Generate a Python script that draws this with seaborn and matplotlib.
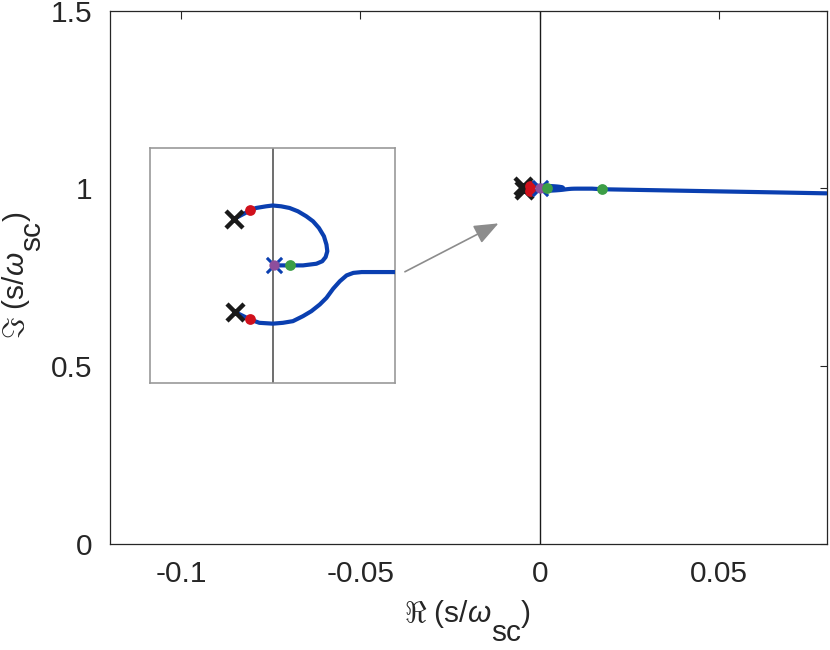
import matplotlib
matplotlib.use("Agg")
import matplotlib.pyplot as plt
import seaborn as sns

# upper branch: pole -> zero at (0, 1)
upper_re = [-0.0046, -0.0027, -0.0020, -0.0008, 0.0000, 0.0010, 0.0020, 0.0030,
            0.0040, 0.0048, 0.0055, 0.0061, 0.0064, 0.0065, 0.0063, 0.0059,
            0.0052, 0.0044, 0.0036, 0.0020, 0.0001]
upper_im = [1.0056, 1.0066, 1.0069, 1.0071, 1.0072, 1.0071, 1.0069, 1.0065,
            1.0059, 1.0053, 1.0045, 1.0035, 1.0025, 1.0017, 1.0010, 1.0005,
            1.0002, 1.0001, 1.0000, 1.0000, 1.0000]

# lower branch: pole -> off to the right
lower_re = [-0.0045, -0.0027, -0.0016, 0.0000, 0.0012, 0.0024, 0.0036, 0.0046,
            0.0056, 0.0064, 0.0072, 0.0080, 0.0088, 0.0096, 0.0106, 0.0120,
            0.0146, 0.0175, 0.030, 0.050, 0.065, 0.080]
lower_im = [0.9944, 0.9935, 0.9931, 0.9930, 0.9931, 0.9933, 0.9939, 0.9945,
            0.9953, 0.9961, 0.9972, 0.9981, 0.9988, 0.9991, 0.9992, 0.9992,
            0.9992, 0.9975, 0.9952, 0.9915, 0.9888, 0.9860]

poles_re = [-0.0046, -0.0045]
poles_im = [1.0056, 0.9944]
zeros_re = [0.0001]
zeros_im = [1.0000]
red_re = [-0.0027, -0.0027]
red_im = [1.0066, 0.9935]
green_re = [0.0020, 0.0175]
green_im = [1.0000, 0.9975]

xticks = [-0.1, -0.05, 0, 0.05]
xtick_labels = ["-0.1", "-0.05", "0", "0.05"]
yticks = [0, 0.5, 1, 1.5]
ytick_labels = ["0", "0.5", "1", "1.5"]

LINE = "#0a3fb0"
RED = "#d0101c"
GREEN = "#3c9e46"
PURPLE = "#8e4e9c"
TXT = "#262626"
FS = 21.5

sns.set_theme(style="white")
plt.rcParams["font.family"] = ["Liberation Sans", "DejaVu Sans"]
plt.rcParams["mathtext.fontset"] = "custom"
plt.rcParams["mathtext.rm"] = "Liberation Sans"
plt.rcParams["mathtext.it"] = "Liberation Sans:italic"
plt.rcParams["axes.unicode_minus"] = False


def draw_locus(ax):
    for xs, ys in [(upper_re, upper_im), (lower_re, lower_im)]:
        sns.lineplot(x=xs, y=ys, sort=False, estimator=None, color=LINE,
                     lw=3, ax=ax, zorder=3, solid_joinstyle="round",
                     solid_capstyle="round")
    sns.scatterplot(x=poles_re, y=poles_im, marker="x", s=150, color="k",
                    linewidth=3.2, ax=ax, zorder=4)
    sns.scatterplot(x=red_re, y=red_im, s=60, color=RED, linewidth=0,
                    ax=ax, zorder=5)
    sns.scatterplot(x=zeros_re, y=zeros_im, marker="x", s=120, color=LINE,
                    linewidth=2.2, ax=ax, zorder=5)
    sns.scatterplot(x=zeros_re, y=zeros_im, s=55, color=PURPLE, linewidth=0,
                    ax=ax, zorder=6)
    sns.scatterplot(x=green_re, y=green_im, s=60, color=GREEN, linewidth=0,
                    ax=ax, zorder=6)


def piece_label(fig, pieces, anchor, vertical):
    # MATLAB-style label: full-size, lowered subscript
    r = fig.canvas.get_renderer()
    widths = []
    for s, _ in pieces:
        t = fig.text(0, 0, s, fontsize=FS)
        widths.append(t.get_window_extent(r).width)
        t.remove()
    pos = -sum(widths) / 2
    W, H = fig.bbox.width, fig.bbox.height
    for (s, drop), w in zip(pieces, widths):
        if vertical:
            x, y, rot = anchor[0] + drop, anchor[1] + pos, 90
        else:
            x, y, rot = anchor[0] + pos, anchor[1] - drop, 0
        fig.text(x / W, y / H, s, rotation=rot, rotation_mode="anchor",
                 ha="left", va="baseline", fontsize=FS, color=TXT)
        pos += w


fig = plt.figure(figsize=(8.3, 6.5), dpi=100)
ax = fig.add_axes([109.5 / 830, (650 - 543.7) / 650, 717 / 830, 533 / 650])

ax.axvline(0, color="k", lw=1, zorder=2)
draw_locus(ax)

ax.set_xlim(-0.12, 0.08)
ax.set_ylim(0, 1.5)
ax.set_xticks(xticks)
ax.set_xticklabels(xtick_labels)
ax.set_yticks(yticks)
ax.set_yticklabels(ytick_labels)
ax.tick_params(direction="in", length=5.4, width=0.8, top=True, right=True,
               labelsize=FS, colors=TXT, pad=12)
for s in ax.spines.values():
    s.set_color(TXT)
    s.set_linewidth(0.9)
ax.set_xlabel("")
ax.set_ylabel("")

piece_label(fig, [(r"$\Re$ (s/$\omega$", 0), ("sc", 19), (")", 0)],
            (467.5, 650 - 622), vertical=False)
piece_label(fig, [(r"$\Im$ (s/$\omega$", 0), ("sc", 16), (")", 0)],
            (24.5, 650 - 275), vertical=True)

# zoomed view of the region around (0, 1)
ins = ax.inset_axes([-0.1086, 0.453, 0.0683, 0.6604], transform=ax.transData)
ins.axvline(0, color="#555555", lw=1.2, zorder=2)
draw_locus(ins)
ins.set_xlim(-0.0146, 0.0146)
ins.set_ylim(0.9859, 1.0141)
ins.set_xticks([])
ins.set_yticks([])
ins.set_xlabel("")
ins.set_ylabel("")
for s in ins.spines.values():
    s.set_color("#999999")
    s.set_linewidth(1.2)

ax.annotate("", xy=(-0.0115, 0.9015), xytext=(-0.0376, 0.7653),
            arrowprops=dict(arrowstyle="-|>,head_length=0.75,head_width=0.3",
                            mutation_scale=20, color="#8c8c8c", lw=1.2,
                            shrinkA=0, shrinkB=0))

fig.savefig("out.png", dpi=100)
